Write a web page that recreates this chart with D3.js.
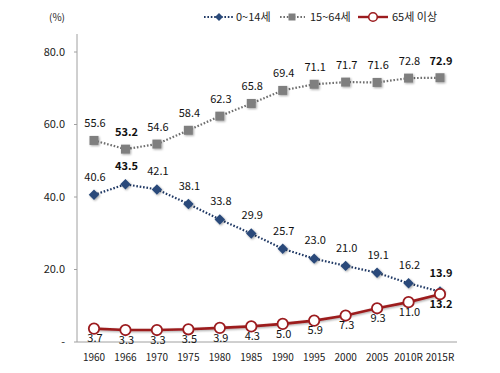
<!DOCTYPE html>
<html><head><meta charset="utf-8">
<script src="https://cdn.jsdelivr.net/npm/d3@7"></script>
<style>body{margin:0;background:#fff}svg{display:block}text{font-family:"Noto Sans CJK KR","Noto Sans",sans-serif}</style>
</head><body>
<script>
const years = ["1960","1966","1970","1975","1980","1985","1990","1995","2000","2005","2010R","2015R"];
const child = [40.6,43.5,42.1,38.1,33.8,29.9,25.7,23.0,21.0,19.1,16.2,13.9];
const working = [55.6,53.2,54.6,58.4,62.3,65.8,69.4,71.1,71.7,71.6,72.8,72.9];
const elderly = [3.7,3.3,3.3,3.5,3.9,4.3,5.0,5.9,7.3,9.3,11.0,13.2];
const yTicks = [0,20,40,60,80];
const seriesNames = ["0~14세","15~64세","65세 이상"];
const boldChild = ["1966","2015R"], boldWorking = ["1966","2015R"], boldElderly = ["2015R"];

const W=500,H=373;
const svg=d3.select("body").append("svg").attr("width",W).attr("height",H);
const defs=svg.append("defs");
const f=defs.append("filter").attr("id","sh").attr("x","-50%").attr("y","-50%").attr("width","200%").attr("height","200%");
f.append("feDropShadow").attr("dx",1).attr("dy",1).attr("stdDeviation",1).attr("flood-color","#000").attr("flood-opacity",0.35);

const x=d3.scalePoint().domain(years).range([94,440]);
const y=d3.scaleLinear().domain([0,80]).range([342,52]);

// axes
svg.append("line").attr("x1",77).attr("x2",77).attr("y1",y(80)-18).attr("y2",y(0)).attr("stroke","#a0a0a0");
svg.append("line").attr("x1",77).attr("x2",457).attr("y1",y(0)).attr("y2",y(0)).attr("stroke","#a0a0a0");
const yg=svg.append("g");
yTicks.forEach(t=>{
  yg.append("line").attr("x1",74).attr("x2",77).attr("y1",y(t)).attr("y2",y(t)).attr("stroke","#a0a0a0");
  yg.append("text").attr("x",65).attr("y",y(t)).attr("dy","0.35em").attr("text-anchor","end")
    .attr("font-size",11).attr("fill","#222").text(t===0?"-":t.toFixed(1));
});
svg.append("text").attr("x",57).attr("y",17).attr("dy","0.35em").attr("text-anchor","middle").attr("font-size",10).attr("fill","#222").text("(%)");
years.forEach(yr=>{
  svg.append("text").attr("x",x(yr)).attr("y",357).attr("dy","0.35em").attr("text-anchor","middle").attr("font-size",10).attr("fill","#222").text(yr);
});

const line=d3.line().x((d,i)=>x(years[i])).y(d=>y(d));
// working
svg.append("path").datum(working).attr("d",line).attr("fill","none").attr("stroke","#6f6f6f").attr("stroke-width",2.2).attr("stroke-dasharray","1.6,1.8");
svg.selectAll(".sq").data(working).enter().append("rect").attr("filter","url(#sh)")
  .attr("x",(d,i)=>x(years[i])-4.5).attr("y",d=>y(d)-4.5).attr("width",9).attr("height",9).attr("fill","#7f7f7f");
// child
svg.append("path").datum(child).attr("d",line).attr("fill","none").attr("stroke","#1f3864").attr("stroke-width",2.2).attr("stroke-dasharray","1.6,1.8");
svg.selectAll(".dm").data(child).enter().append("path").attr("filter","url(#sh)")
  .attr("d",d3.symbol().type(d3.symbolDiamond2).size(70)())
  .attr("transform",(d,i)=>`translate(${x(years[i])},${y(d)})`).attr("fill","#2a4a7a");
// elderly
svg.append("path").datum(elderly).attr("d",line).attr("fill","none").attr("stroke","#9c1c1f").attr("stroke-width",2.6).attr("filter","url(#sh)");
svg.selectAll(".ci").data(elderly).enter().append("circle")
  .attr("cx",(d,i)=>x(years[i])).attr("cy",d=>y(d)).attr("r",5.2).attr("fill","#fff").attr("stroke","#9c1c1f").attr("stroke-width",1.8);

function labels(data,off,bold){
  data.forEach((d,i)=>{
    svg.append("text").attr("x",x(years[i])+1).attr("y",y(d)+off).attr("dy","0.35em").attr("text-anchor","middle")
      .attr("font-size",11).attr("fill","#111").attr("font-weight",bold.includes(years[i])?"bold":"normal").text(d.toFixed(1));
  });
}
labels(child,-18,boldChild);
labels(working,-17,boldWorking);
labels(elderly,10,boldElderly);

// legend
const lg=svg.append("g");
lg.append("line").attr("x1",204).attr("x2",234).attr("y1",17).attr("y2",17).attr("stroke","#1f3864").attr("stroke-width",2).attr("stroke-dasharray","1.6,1.8");
lg.append("path").attr("d",d3.symbol().type(d3.symbolDiamond2).size(40)()).attr("transform","translate(219,17)").attr("fill","#2a4a7a");
lg.append("text").attr("x",236).attr("y",17).attr("dy","0.35em").attr("font-size",11).attr("fill","#222").text(seriesNames[0]);
lg.append("line").attr("x1",280).attr("x2",305).attr("y1",17).attr("y2",17).attr("stroke","#6f6f6f").attr("stroke-width",2).attr("stroke-dasharray","1.6,1.8");
lg.append("rect").attr("x",288.5).attr("y",13.5).attr("width",7).attr("height",7).attr("fill","#7f7f7f");
lg.append("text").attr("x",310).attr("y",17).attr("dy","0.35em").attr("font-size",11).attr("fill","#222").text(seriesNames[1]);
lg.append("line").attr("x1",358).attr("x2",388).attr("y1",17).attr("y2",17).attr("stroke","#9c1c1f").attr("stroke-width",2.4);
lg.append("circle").attr("cx",373).attr("cy",17).attr("r",4.3).attr("fill","#fff").attr("stroke","#9c1c1f").attr("stroke-width",1.6);
lg.append("text").attr("x",392).attr("y",17).attr("dy","0.35em").attr("font-size",11).attr("fill","#222").text(seriesNames[2]);
</script>
</body></html>
